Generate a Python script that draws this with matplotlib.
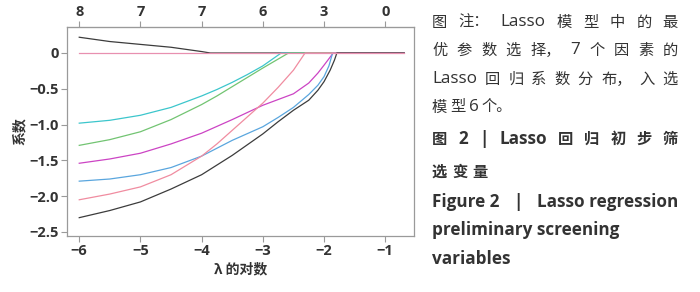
import matplotlib
matplotlib.use('Agg')
import matplotlib.pyplot as plt

W, H = 700, 292

# ---------------- data ----------------
end_x = -0.69

black_top_x = [-6, -5.5, -5, -4.5, -4, -3.86]
black_top_y = [0.22, 0.16, 0.12, 0.08, 0.02, 0.0]

cyan_x = [-6, -5.5, -5, -4.5, -4, -3.75, -3.5, -3.25, -3, -2.85, -2.70]
cyan_y = [-0.98, -0.94, -0.87, -0.76, -0.60, -0.51, -0.41, -0.30, -0.18, -0.09, 0.0]

green_x = [-6, -5.5, -5, -4.5, -4, -3.75, -3.5, -3.25, -3, -2.8, -2.58]
green_y = [-1.29, -1.21, -1.10, -0.93, -0.72, -0.60, -0.47, -0.34, -0.21, -0.11, 0.0]

magenta_x = [-6, -5.5, -5, -4.5, -4, -3.5, -3, -2.75, -2.5, -2.25, -2.1, -2, -1.92, -1.85]
magenta_y = [-1.54, -1.48, -1.40, -1.27, -1.12, -0.93, -0.73, -0.65, -0.57, -0.42, -0.28, -0.17, -0.08, 0.0]

lightblue_x = [-6, -5.5, -5, -4.5, -4, -3.5, -3, -2.75, -2.5, -2.25, -2.1, -2, -1.92, -1.86]
lightblue_y = [-1.79, -1.76, -1.70, -1.60, -1.44, -1.22, -1.03, -0.90, -0.76, -0.58, -0.45, -0.33, -0.18, 0.0]

pink_x = [-6, -5.5, -5, -4.5, -4, -3.75, -3.5, -3.25, -3, -2.75, -2.5, -2.31]
pink_y = [-2.05, -1.97, -1.87, -1.70, -1.44, -1.27, -1.08, -0.89, -0.70, -0.48, -0.24, 0.0]

black_bot_x = [-6, -5.5, -5, -4.5, -4, -3.5, -3, -2.75, -2.5, -2.25, -2.1, -2, -1.9, -1.83, -1.79]
black_bot_y = [-2.30, -2.20, -2.08, -1.90, -1.70, -1.43, -1.13, -0.96, -0.80, -0.66, -0.52, -0.40, -0.24, -0.10, 0.0]

zero_x = [-6, end_x]
zero_y = [0, 0]

x_ticks = [-6, -5, -4, -3, -2, -1]
x_tick_labels = ['\u22126', '\u22125', '\u22124', '\u22123', '\u22122', '\u22121']
top_tick_labels = ['8', '7', '7', '6', '3', '0']
y_ticks = [0, -0.5, -1.0, -1.5, -2.0, -2.5]
y_tick_labels = ['0', '\u22120.5', '\u22121.0', '\u22121.5', '\u22122.0', '\u22122.5']

series = [
    (black_top_x, black_top_y, '#3c3c3c'),
    (cyan_x, cyan_y, '#3cc6cc'),
    (green_x, green_y, '#72c472'),
    (magenta_x, magenta_y, '#cc44c4'),
    (lightblue_x, lightblue_y, '#5aa6de'),
    (pink_x, pink_y, '#f08ca0'),
    (black_bot_x, black_bot_y, '#3c3c3c'),
]

TXT = '#333333'
LAT = ['Open Sans', 'Noto Sans CJK SC', 'DejaVu Sans']
CJK = ['Noto Sans CJK SC', 'Open Sans', 'DejaVu Sans']

fig = plt.figure(figsize=(W / 100, H / 100), dpi=100)
ax = fig.add_axes([67 / W, 1 - 236 / H, (414 - 67) / W, (236 - 27) / H])

for xs, ys, c in series:
    ax.plot(list(xs) + [end_x], list(ys) + [0.0], color=c, lw=0.9)
ax.plot(zero_x, zero_y, color='#e890b0', lw=0.9)

ax.set_xlim(-6.2, -0.53)
ax.set_ylim(-2.556, 0.363)

for s in ax.spines.values():
    s.set_color('#9a9a9a')
    s.set_linewidth(0.9)

ax.set_xticks(x_ticks)
ax.set_xticklabels(x_tick_labels, family=LAT, fontsize=10.5, color=TXT, weight='bold')
ax.set_yticks(y_ticks)
ax.set_yticklabels(y_tick_labels, family=LAT, fontsize=10.5, color=TXT, weight='bold')
ax.tick_params(axis='both', direction='out', length=4, width=0.8, color='#9a9a9a', pad=2)

axt = ax.secondary_xaxis('top')
axt.set_xticks(x_ticks)
axt.set_xticklabels(top_tick_labels, family=LAT, fontsize=10.5, color=TXT, weight='bold')
axt.tick_params(axis='x', direction='out', length=4, width=0.8, color='#9a9a9a', pad=2)
axt.spines['top'].set_color('#9a9a9a')

ax.set_xlabel('\u03bb 的对数', family=CJK, fontsize=10, color=TXT, labelpad=3, weight='bold')
ax.set_ylabel('系数', family=CJK, fontsize=10, color=TXT, labelpad=2, weight='bold')

# ---------------- right-hand caption ----------------
renderer = fig.canvas.get_renderer()


def is_cjk(tok):
    return any(ord(c) > 0x2E80 for c in tok)


def caption_line(tokens, y, weight='normal', justify=True, x0=432, x1=678, gap0=4):
    texts = []
    for tok in tokens:
        cj = is_cjk(tok)
        t = fig.text(0, 1 - y / H, tok, family=CJK if cj else LAT,
                     fontsize=11 if cj else 12.3, weight=weight,
                     va='center', ha='left', color=TXT)
        texts.append(t)
    widths = [t.get_window_extent(renderer).width for t in texts]
    if justify and len(tokens) > 1:
        gap = (x1 - x0 - sum(widths)) / (len(tokens) - 1)
    else:
        gap = gap0
    x = x0
    for t, w in zip(texts, widths):
        t.set_x(x / W)
        x += w + gap


caption_line(['图', '注：', 'Lasso', '模', '型', '中', '的', '最'], 22, weight='medium')
caption_line(['优', '参', '数', '选', '择，', '7', '个', '因', '素', '的'], 50, weight='medium')
caption_line(['Lasso', '回', '归', '系', '数', '分', '布，', '入', '选'], 79, weight='medium')
caption_line(['模', '型', '6', '个。'], 107, weight='medium', justify=False, gap0=3)
caption_line(['图', '2', '|', 'Lasso', '回', '归', '初', '步', '筛'], 139, weight='bold')
caption_line(['选', '变', '量'], 172, weight='bold', justify=False, gap0=5)
caption_line(['Figure 2', '|', 'Lasso regression'], 202, weight='bold')
caption_line(['preliminary screening'], 230, weight='bold', justify=False)
caption_line(['variables'], 259, weight='bold', justify=False)

fig.savefig('out.png', dpi=100)
